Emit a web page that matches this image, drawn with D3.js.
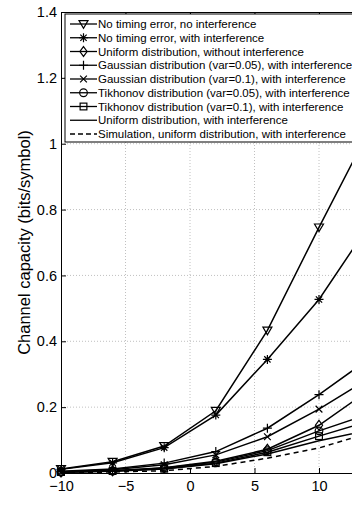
<!DOCTYPE html>
<html>
<head>
<meta charset="utf-8">
<script src="https://cdn.jsdelivr.net/npm/d3@7"></script>
<style>
  html, body { margin: 0; padding: 0; background: #fff; overflow: hidden; }
  svg { display: block; font-family: "Liberation Sans", Arial, sans-serif; }
</style>
</head>
<body>
<div id="chart"></div>
<script>
// SNR points (dB)
const snr = [-10, -6, -2, 2, 6, 10, 14];

const noErrNoInt   = [0.012, 0.034, 0.082, 0.189, 0.433, 0.746, 1.05];
const noErrInt     = [0.011, 0.031, 0.077, 0.176, 0.345, 0.527, 0.76];
const uniNoInt     = [0.003, 0.007, 0.016, 0.036, 0.072, 0.145, 0.255];
const gauss005     = [0.005, 0.012, 0.030, 0.065, 0.136, 0.238, 0.35];
const gauss01      = [0.004, 0.010, 0.025, 0.055, 0.110, 0.194, 0.29];
const tikh005      = [0.003, 0.006, 0.015, 0.033, 0.068, 0.128, 0.181];
const tikh01       = [0.003, 0.006, 0.013, 0.030, 0.063, 0.112, 0.159];
const uniInt       = [0.002, 0.005, 0.012, 0.028, 0.058, 0.098, 0.131];
const simUniInt    = [0.001, 0.003, 0.007, 0.020, 0.045, 0.076, 0.123];

const xTicks = [-10, -5, 0, 5, 10];
const yTicks = [0, 0.2, 0.4, 0.6, 0.8, 1, 1.2, 1.4];

const series = [
  { name: "No timing error, no interference", values: noErrNoInt, marker: "tri" },
  { name: "No timing error, with interference", values: noErrInt, marker: "star" },
  { name: "Uniform distribution, without interference", values: uniNoInt, marker: "diamond" },
  { name: "Gaussian distribution (var=0.05), with interference", values: gauss005, marker: "plus" },
  { name: "Gaussian distribution (var=0.1), with interference", values: gauss01, marker: "cross" },
  { name: "Tikhonov distribution (var=0.05), with interference", values: tikh005, marker: "circle" },
  { name: "Tikhonov distribution (var=0.1), with interference", values: tikh01, marker: "square" },
  { name: "Uniform distribution, with interference", values: uniInt, marker: null },
  { name: "Simulation, uniform distribution, with interference", values: simUniInt, marker: null, dashed: true }
];

const W = 352, H = 512;
const margin = { top: 12, left: 61, bottom: 39 };
const plotH = H - margin.top - margin.bottom;

const svg = d3.select("#chart").append("svg")
  .attr("width", W)
  .attr("height", H);

const x = d3.scaleLinear().domain([-10, 20]).range([margin.left, margin.left + 30 * 12.9]);
const y = d3.scaleLinear().domain([0, 1.4]).range([margin.top + plotH, margin.top]);

// grid
svg.append("g").selectAll("line")
  .data(xTicks.slice(1))
  .join("line")
  .attr("x1", d => x(d)).attr("x2", d => x(d))
  .attr("y1", y(0)).attr("y2", y(1.4))
  .attr("stroke", "#b0b0b0").attr("stroke-width", 0.8)
  .attr("stroke-dasharray", "1,2");

svg.append("g").selectAll("line")
  .data(yTicks.slice(1, -1))
  .join("line")
  .attr("x1", x(-10)).attr("x2", x(20))
  .attr("y1", d => y(d)).attr("y2", d => y(d))
  .attr("stroke", "#b0b0b0").attr("stroke-width", 0.8)
  .attr("stroke-dasharray", "1,2");

// axes with inward ticks
const bottomAxis = svg.append("g")
  .attr("transform", `translate(0,${y(0)})`)
  .call(d3.axisBottom(x).tickValues(xTicks).tickSizeInner(-5).tickSizeOuter(0)
    .tickPadding(8).tickFormat(d => d < 0 ? "\u2212" + Math.abs(d) : d));

const topAxis = svg.append("g")
  .attr("transform", `translate(0,${y(1.4)})`)
  .call(d3.axisTop(x).tickValues(xTicks).tickSizeInner(-5).tickSizeOuter(0).tickFormat(""));

const leftAxis = svg.append("g")
  .attr("transform", `translate(${x(-10)},0)`)
  .call(d3.axisLeft(y).tickValues(yTicks).tickSizeInner(-5).tickSizeOuter(0)
    .tickPadding(4).tickFormat(d => d3.format("")(+d.toFixed(1))));

[bottomAxis, topAxis, leftAxis].forEach(g => {
  g.select(".domain").attr("stroke", "#000").attr("stroke-width", 1);
  g.selectAll(".tick line").attr("stroke", "#000");
  g.selectAll(".tick text").attr("fill", "#000").style("font-size", "14.5px");
});

// y label
svg.append("text")
  .attr("transform", `translate(30,${(y(0) + y(1.4)) / 2}) rotate(-90)`)
  .attr("text-anchor", "middle")
  .style("font-size", "16.5px")
  .text("Channel capacity (bits/symbol)");

// markers
function drawMarker(g, type, cx, cy) {
  const s = 4.5;
  const st = { stroke: "#000", "stroke-width": 1.2, fill: "none" };
  let el;
  if (type === "tri") {
    el = g.append("path").attr("d", `M${cx - s},${cy - s * 0.75}L${cx + s},${cy - s * 0.75}L${cx},${cy + s * 0.95}Z`);
  } else if (type === "diamond") {
    el = g.append("path").attr("d", `M${cx},${cy - s * 1.1}L${cx + s * 0.8},${cy}L${cx},${cy + s * 1.1}L${cx - s * 0.8},${cy}Z`);
  } else if (type === "plus") {
    el = g.append("path").attr("d", `M${cx - s},${cy}L${cx + s},${cy}M${cx},${cy - s}L${cx},${cy + s}`);
  } else if (type === "cross") {
    const c = s * 0.75;
    el = g.append("path").attr("d", `M${cx - c},${cy - c}L${cx + c},${cy + c}M${cx - c},${cy + c}L${cx + c},${cy - c}`);
  } else if (type === "star") {
    const c = s * 0.7;
    el = g.append("path").attr("d", `M${cx - s},${cy}L${cx + s},${cy}M${cx},${cy - s}L${cx},${cy + s}M${cx - c},${cy - c}L${cx + c},${cy + c}M${cx - c},${cy + c}L${cx + c},${cy - c}`);
  } else if (type === "circle") {
    el = g.append("circle").attr("cx", cx).attr("cy", cy).attr("r", s * 0.85);
  } else if (type === "square") {
    el = g.append("rect").attr("x", cx - s * 0.75).attr("y", cy - s * 0.75)
      .attr("width", s * 1.5).attr("height", s * 1.5);
  }
  if (el) Object.entries(st).forEach(([k, v]) => el.attr(k, v));
}

const line = d3.line().x((d, i) => x(snr[i])).y(d => y(d));

const plot = svg.append("g");
series.forEach(s => {
  plot.append("path")
    .datum(s.values)
    .attr("d", line)
    .attr("fill", "none")
    .attr("stroke", "#000")
    .attr("stroke-width", 1.5)
    .attr("stroke-dasharray", s.dashed ? "5,4" : null);
  if (s.marker) {
    const mg = plot.append("g");
    s.values.forEach((v, i) => drawMarker(mg, s.marker, x(snr[i]), y(v)));
  }
});

// legend
const legX = 65, legY = 14, rowH = 13.75;
const legend = svg.append("g");
legend.append("rect")
  .attr("x", legX).attr("y", legY)
  .attr("width", 400).attr("height", 128)
  .attr("fill", "#fff").attr("stroke", "#000").attr("stroke-width", 1);

series.forEach((s, i) => {
  const cy = legY + 10 + i * rowH;
  const row = legend.append("g");
  row.append("line")
    .attr("x1", legX + 5).attr("x2", legX + 32)
    .attr("y1", cy).attr("y2", cy)
    .attr("stroke", "#000").attr("stroke-width", 1.3)
    .attr("stroke-dasharray", s.dashed ? "5,3" : null);
  if (s.marker) drawMarker(row, s.marker, legX + 18.5, cy);
  row.append("text")
    .attr("x", legX + 33).attr("y", cy)
    .attr("dy", "0.35em")
    .style("font-size", "11.5px")
    .text(s.name);
});
</script>
</body>
</html>
